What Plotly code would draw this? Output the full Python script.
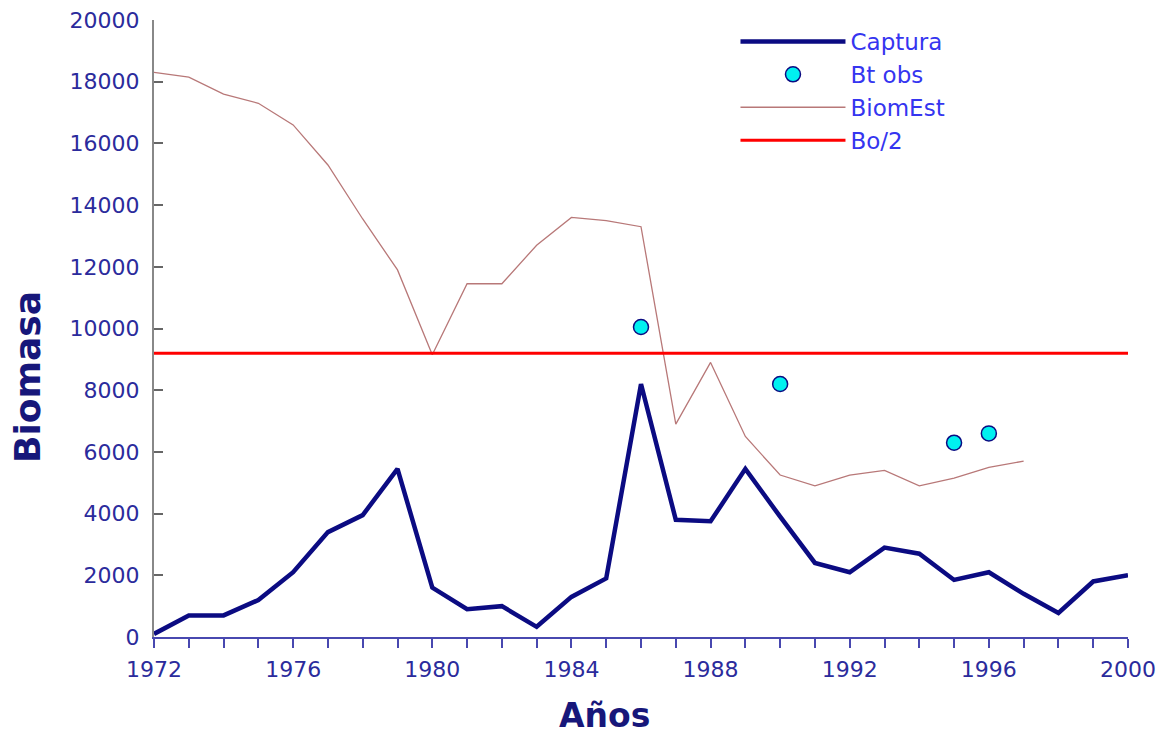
import plotly.graph_objects as go

years = list(range(1972, 2001))
captura = [100, 700, 700, 1200, 2100, 3400, 3950, 5450, 1600, 900, 1000, 330, 1300, 1900,
           8200, 3800, 3750, 5450, 3900, 2400, 2100, 2900, 2700, 1850, 2100, 1400, 780, 1800, 2000]

biom_years = list(range(1972, 1998))
biom_est = [18300, 18150, 17600, 17300, 16600, 15300, 13550, 11900, 9150, 11450, 11450, 12700,
            13600, 13500, 13300, 6900, 8900, 6500, 5250, 4900, 5250, 5400, 4900, 5150, 5500, 5700]

obs_years = [1986, 1990, 1995, 1996]
bt_obs = [10050, 8200, 6300, 6600]

bo2_years = [1972, 2000]
bo2 = [9200, 9200]

FONT = "DejaVu Sans, Arial, sans-serif"

fig = go.Figure()
fig.add_trace(go.Scatter(x=years, y=captura, name="Captura", mode="lines",
                         line=dict(color="#0b0b82", width=4.5)))
fig.add_trace(go.Scatter(x=obs_years, y=bt_obs, name="Bt obs", mode="markers",
                         marker=dict(color="#00f0f0", size=15, line=dict(color="#0b0b82", width=1.5))))
fig.add_trace(go.Scatter(x=biom_years, y=biom_est, name="BiomEst", mode="lines",
                         line=dict(color="#b87878", width=1.3)))
fig.add_trace(go.Scatter(x=bo2_years, y=bo2, name="Bo/2", mode="lines",
                         line=dict(color="#ff0000", width=3)))

# the page body adds an 8px offset, so margins are 8px smaller than the target pixels
tick_font = dict(family=FONT, size=22, color="#2b2b9c")
fig.update_layout(
    width=1164, height=734,
    margin=dict(l=146, r=44, t=12, b=105),
    paper_bgcolor="white", plot_bgcolor="white",
    showlegend=True,
    legend=dict(x=0.597, y=1.0, xanchor="left", yanchor="top",
                font=dict(family=FONT, size=23, color="#3535f0"),
                bgcolor="rgba(0,0,0,0)", itemwidth=105, tracegroupgap=0),
    xaxis=dict(range=[1972, 2000], dtick=4, tick0=1972, showgrid=False, zeroline=False,
               automargin=False, ticklabeloverflow="allow",
               showline=True, linecolor="#4848b0", linewidth=2,
               ticks="outside", ticklen=9, tickcolor="#4848b0", tickwidth=1.5,
               minor=dict(dtick=1, ticks="outside", ticklen=9, tickcolor="#4848b0", tickwidth=1.5),
               tickfont=tick_font, ticklabelstandoff=3),
    yaxis=dict(range=[0, 20000], dtick=2000, showgrid=False, zeroline=False,
               automargin=False, tickformat="d", ticklabeloverflow="allow",
               showline=True, linecolor="#888888", linewidth=2,
               ticks="inside", ticklen=9, tickcolor="#666666", tickwidth=1.5,
               tickfont=tick_font, ticklabelstandoff=8),
)
fig.add_annotation(text="<b>Años</b>", xref="paper", yref="paper", x=0.463, y=0,
                   yshift=-78, showarrow=False, xanchor="center", yanchor="middle",
                   font=dict(family=FONT, size=33, color="#17177a"))
fig.add_annotation(text="<b>Biomasa</b>", xref="paper", yref="paper", x=-0.1294, y=0.4214,
                   showarrow=False, xanchor="center", yanchor="middle", textangle=-90,
                   font=dict(family=FONT, size=36, color="#17177a"))

fig.write_html("out.html")
